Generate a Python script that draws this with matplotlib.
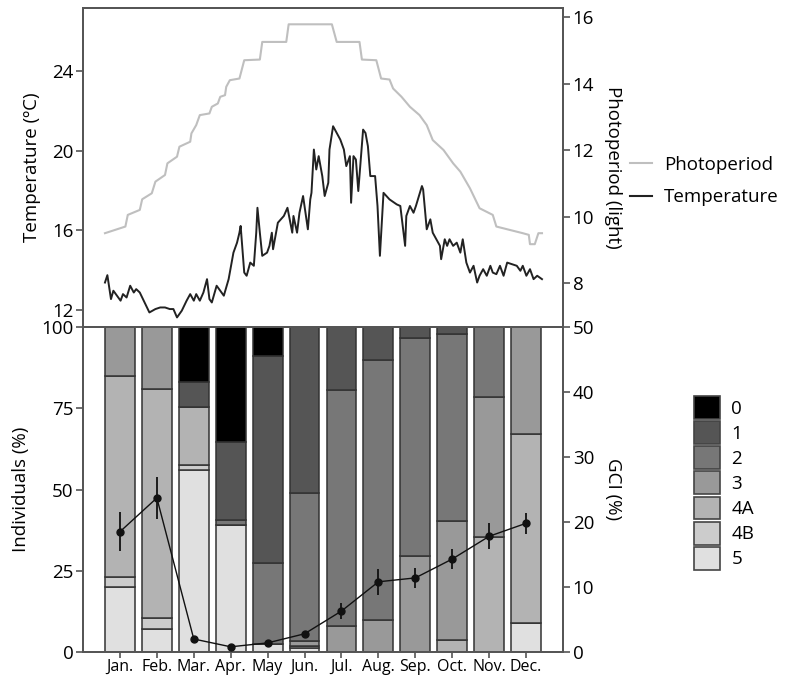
import matplotlib
matplotlib.use('Agg')
import matplotlib.pyplot as plt
import numpy as np
from matplotlib.patches import Patch
from matplotlib.lines import Line2D

# ---------------- data ----------------
months = ['Jan.', 'Feb.', 'Mar.', 'Apr.', 'May', 'Jun.', 'Jul.', 'Aug.', 'Sep.', 'Oct.', 'Nov.', 'Dec.']

# stage percentages per month (stack order bottom -> top: 5, 4B, 4A, 3, 2, 1, 0)
stage_5  = [20.0, 7.0, 56.0, 39.0, 2.5, 1.2, 0.0, 0.0, 0.0, 0.0, 0.0, 9.0]
stage_4B = [3.0, 3.5, 1.5, 0.0, 0.0, 0.8, 0.0, 0.0, 0.0, 0.0, 0.0, 0.0]
stage_4A = [62.0, 70.5, 18.0, 0.0, 0.0, 0.0, 0.0, 0.0, 0.0, 3.7, 35.5, 58.0]
stage_3  = [15.0, 19.0, 0.0, 0.0, 0.0, 1.5, 8.0, 10.0, 29.5, 36.5, 43.0, 33.0]
stage_2  = [0.0, 0.0, 0.0, 1.5, 25.0, 45.5, 72.5, 80.0, 67.0, 57.5, 21.5, 0.0]
stage_1  = [0.0, 0.0, 7.5, 24.0, 63.5, 51.0, 19.5, 10.0, 3.5, 2.3, 0.0, 0.0]
stage_0  = [0.0, 0.0, 17.0, 35.5, 9.0, 0.0, 0.0, 0.0, 0.0, 0.0, 0.0, 0.0]

gci_mean = [18.5, 23.7, 2.0, 0.8, 1.4, 2.8, 6.3, 10.8, 11.4, 14.3, 17.8, 19.8]
gci_err  = [3.0, 3.2, 0.3, 0.2, 0.3, 0.4, 1.2, 2.0, 1.6, 1.5, 2.0, 1.6]

temp_day = [1, 3, 6, 8, 11, 14, 16, 19, 22, 25, 27, 30, 34, 38, 43, 47, 51, 55, 58, 61,
            65, 69, 72, 75, 77, 80, 83, 86, 88, 90, 94, 97, 100, 104, 108, 111, 113, 114,
            117, 119, 122, 125, 127, 128, 130, 132, 136, 138, 140, 141, 145, 150, 153, 157,
            158, 161, 163, 166, 170, 172, 173, 175, 177, 179, 182, 184, 187, 188, 191, 194,
            197, 200, 202, 205, 206, 208, 210, 212, 216, 218, 220, 222, 226, 228, 230, 233,
            238, 244, 247, 249, 251, 252, 255, 258, 260, 265, 266, 269, 272, 274, 277, 280,
            281, 284, 286, 288, 291, 294, 297, 299, 302, 305, 308, 311, 313, 316, 319, 322,
            324, 327, 330, 333, 336, 340, 344, 347, 349, 352, 355, 358, 361, 365]
temperature = [13.38, 13.75, 12.55, 12.97, 12.72, 12.47, 12.80, 12.63, 13.22, 12.88, 13.05,
               12.88, 12.38, 11.88, 12.05, 12.13, 12.13, 12.05, 12.05, 11.63, 11.97, 12.47,
               12.80, 12.47, 12.80, 12.47, 12.88, 13.55, 12.55, 12.38, 13.22, 12.97, 12.72,
               13.55, 14.88, 15.38, 15.88, 16.22, 13.88, 13.72, 14.38, 14.22, 15.88, 17.13,
               15.88, 14.72, 14.88, 15.22, 15.88, 15.05, 16.38, 16.72, 17.13, 15.88, 16.72,
               15.88, 16.88, 17.72, 16.05, 17.55, 17.88, 20.05, 19.05, 19.72, 18.72, 17.72,
               18.38, 20.05, 21.22, 20.88, 20.55, 20.05, 19.22, 19.72, 17.38, 19.72, 19.55,
               17.97, 21.05, 20.88, 20.22, 18.72, 18.72, 17.22, 14.72, 17.88, 17.55, 17.30,
               17.22, 16.22, 15.22, 16.72, 17.22, 16.88, 17.22, 18.22, 18.05, 16.05, 16.55,
               15.88, 15.55, 15.22, 14.55, 15.55, 15.22, 15.55, 15.22, 15.38, 14.88, 15.55,
               14.38, 13.88, 14.22, 13.38, 13.72, 14.05, 13.72, 14.22, 13.88, 13.80, 14.22,
               13.72, 14.38, 14.30, 14.22, 13.97, 14.22, 13.72, 14.05, 13.55, 13.72, 13.55]

photo_day = [1, 18, 20, 30, 32, 40, 43, 51, 53, 61, 63, 72, 73, 77, 80, 88, 90, 95, 97, 101,
             102, 105, 113, 117, 130, 132, 152, 154, 190, 194, 213, 215, 227, 231, 238, 241,
             248, 255, 263, 269, 274, 283, 291, 297, 305, 313, 324, 327, 349, 354, 355, 359,
             362, 365]
photoperiod = [9.50, 9.70, 10.05, 10.20, 10.52, 10.70, 11.05, 11.25, 11.60, 11.80, 12.10,
               12.25, 12.50, 12.75, 13.05, 13.10, 13.30, 13.40, 13.60, 13.65, 13.90, 14.10,
               14.15, 14.70, 14.72, 15.25, 15.25, 15.78, 15.78, 15.25, 15.25, 14.72, 14.70,
               14.15, 14.12, 13.85, 13.60, 13.30, 13.05, 12.75, 12.30, 12.00, 11.60, 11.35,
               10.85, 10.25, 10.05, 9.70, 9.50, 9.45, 9.17, 9.17, 9.50, 9.50]

stage_labels = ['0', '1', '2', '3', '4A', '4B', '5']
stage_colors = {'0': '#000000', '1': '#555555', '2': '#777777', '3': '#999999',
                '4A': '#b3b3b3', '4B': '#cccccc', '5': '#e0e0e0'}

# ---------------- style ----------------
plt.rcParams['font.family'] = ['Open Sans', 'DejaVu Sans']
FS = 13.5
SPINE = '#555555'

fig = plt.figure(figsize=(8.03, 6.8), dpi=100)
ax_t = fig.add_axes([83 / 803, 1 - 327 / 680, 480 / 803, 319 / 680])
ax_b = fig.add_axes([83 / 803, 1 - 652 / 680, 480 / 803, 325 / 680])


def style_spines(ax):
    for s in ax.spines.values():
        s.set_color(SPINE)
        s.set_linewidth(1.3)


# ---------------- top panel ----------------
ax_t2 = ax_t.twinx()
ax_t2.plot(photo_day, photoperiod, color='#bfbfbf', lw=1.5, zorder=1)
ax_t.set_zorder(ax_t2.get_zorder() + 1)
ax_t.patch.set_visible(False)
ax_t.plot(temp_day, temperature, color='#222222', lw=1.4, zorder=3)

ax_t.set_xlim(-17.3, 382.5)
ax_t.set_ylim(11.15, 27.15)
ax_t.set_yticks([12, 16, 20, 24])
ax_t2.set_ylim(6.68, 16.27)
ax_t2.set_yticks([8, 10, 12, 14, 16])
ax_t.tick_params(axis='x', bottom=False, labelbottom=False)
for a in (ax_t, ax_t2):
    a.tick_params(axis='y', direction='out', length=5, width=1.2, color=SPINE,
                  labelsize=FS, pad=2)
    style_spines(a)
ax_t.set_ylabel('Temperature (ºC)', fontsize=FS, labelpad=8)
ax_t2.set_ylabel('Photoperiod (light)', fontsize=FS, rotation=270, labelpad=20)

# ---------------- bottom panel ----------------
x = np.arange(len(months))
stack = [('5', stage_5), ('4B', stage_4B), ('4A', stage_4A), ('3', stage_3),
         ('2', stage_2), ('1', stage_1), ('0', stage_0)]
bottom = np.zeros(len(months))
for name, vals in stack:
    vals = np.array(vals)
    ax_b.bar(x, vals, width=0.81, bottom=bottom, color=stage_colors[name],
             edgecolor='#333333', linewidth=1.1, zorder=2)
    bottom += vals

ax_b.set_xlim(-1, 12)
ax_b.set_ylim(0, 100)
ax_b.set_yticks([0, 25, 50, 75, 100])
ax_b.set_xticks(x)
ax_b.set_xticklabels(months, fontsize=11.5)
ax_b.tick_params(axis='x', direction='out', length=4, width=1.2, color=SPINE, pad=1)
ax_b.tick_params(axis='y', direction='out', length=5, width=1.2, color=SPINE,
                 labelsize=FS, pad=2)
ax_b.set_ylabel('Individuals (%)', fontsize=FS, labelpad=8)

ax_b2 = ax_b.twinx()
ax_b2.errorbar(x, gci_mean, yerr=gci_err, color='#111111', lw=1.0, marker='o',
               markersize=5, elinewidth=1.3, capsize=0, zorder=5)
ax_b2.set_ylim(0, 50)
ax_b2.set_yticks([0, 10, 20, 30, 40, 50])
ax_b2.tick_params(axis='y', direction='out', length=5, width=1.2, color=SPINE,
                  labelsize=FS, pad=2)
ax_b2.set_ylabel('GCI (%)', fontsize=FS, rotation=270, labelpad=20)
style_spines(ax_b)
style_spines(ax_b2)

# ---------------- legends ----------------
line_handles = [Line2D([], [], color='#bfbfbf', lw=1.5),
                Line2D([], [], color='#222222', lw=1.5)]
fig.legend(line_handles, ['Photoperiod', 'Temperature'], loc='upper left',
           bbox_to_anchor=(630 / 803, 1 - 156 / 680), frameon=False, fontsize=FS,
           handlelength=1.2, handletextpad=0.6, labelspacing=0.75,
           borderaxespad=0, borderpad=0)

patch_handles = [Patch(facecolor=stage_colors[s], edgecolor='#444444', lw=1.2)
                 for s in stage_labels]
fig.legend(patch_handles, stage_labels, loc='upper left',
           bbox_to_anchor=(694 / 803, 1 - 396 / 680), frameon=False, fontsize=FS,
           handlelength=1.4, handleheight=1.5, handletextpad=0.6, labelspacing=0.12,
           borderaxespad=0, borderpad=0)

fig.savefig('out.png', dpi=100)
